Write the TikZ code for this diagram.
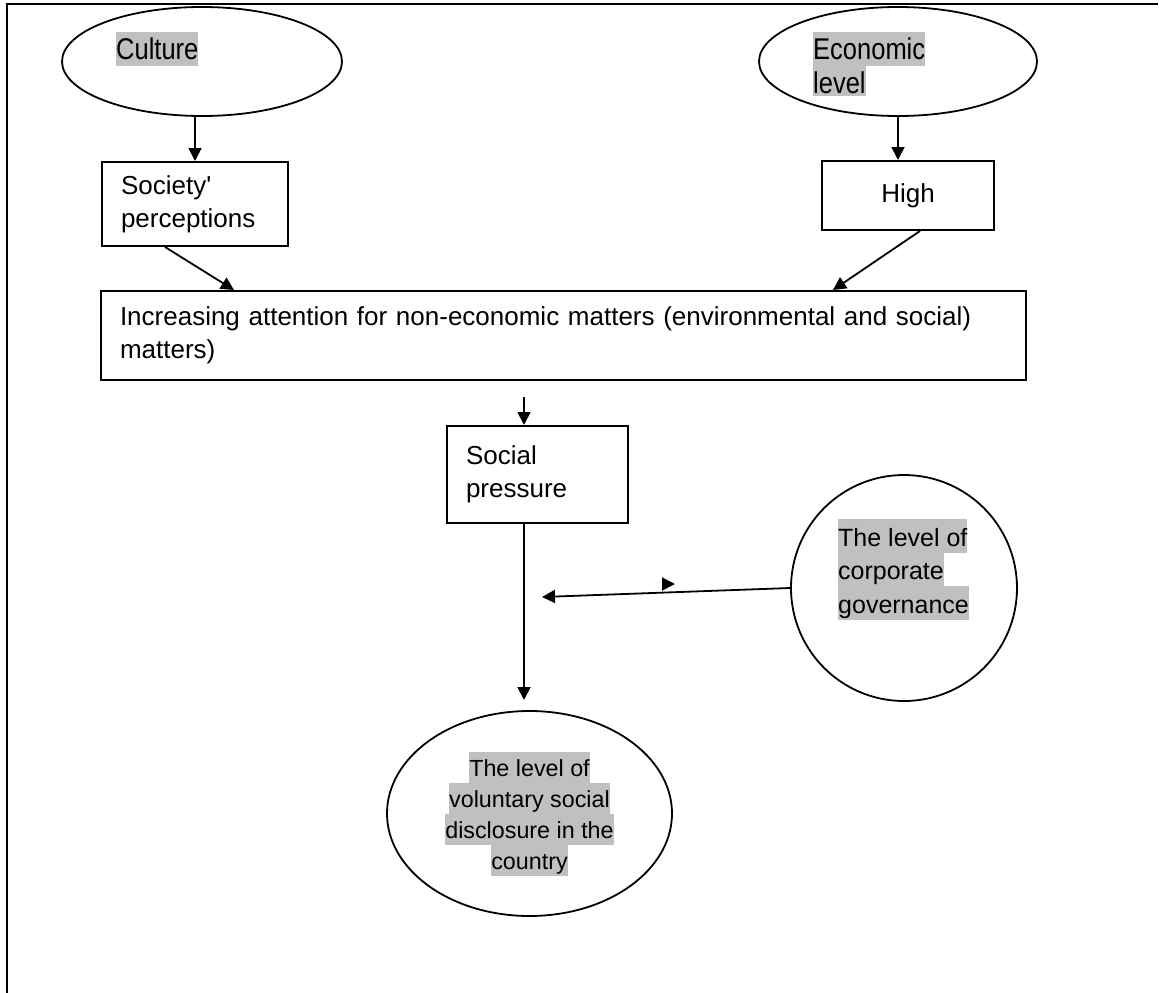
\documentclass[tikz,border=0pt]{standalone}
\usepackage{fontspec}
\setmainfont{Liberation Sans}
\newfontfamily\ovalfamily{Liberation Sans}[FakeStretch=0.85]
\usepackage{tikz}
\usetikzlibrary{arrows.meta,positioning,shapes.geometric}
\definecolor{hlgray}{HTML}{C0C0C0}
\newcommand{\hilite}[1]{{\fboxsep=0pt\colorbox{hlgray}{\rule[-0.2\baselineskip]{0pt}{\baselineskip}#1}}}
\tikzset{
  ovalbox/.style={draw, ellipse, line width=1.8pt, inner sep=0pt},
  roundbox/.style={draw, circle, line width=1.8pt, inner sep=0pt},
  rectbox/.style={draw, rectangle, line width=2pt, inner xsep=19pt, inner ysep=0pt, align=left, font=\fontsize{26}{33}\selectfont},
  ovaltext/.style={inner sep=0pt, anchor=north west, align=left, font=\ovalfamily\fontsize{30}{34}\selectfont},
  circtext/.style={inner sep=0pt, anchor=north west, align=left, font=\fontsize{25}{33.5}\selectfont},
  arrow/.style={-{Triangle[length=13pt,width=13pt]}, line width=1.8pt}
}

\begin{document}
\begin{tikzpicture}[x=1pt, y=-1pt]
  \useasboundingbox (0,0) rectangle (1159,993);
  % page frame, open at right and bottom
  \draw[line width=2.2pt] (7,993) -- (7,4) -- (1158,4);

  % top ovals
  \node[ovalbox, minimum width=280pt, minimum height=109pt] (culture) at (202,61.5) {};
  \node[ovaltext] (culturetext) at (116,32) {\hilite{Culture}};
  \node[ovalbox, minimum width=278pt, minimum height=109pt] (econ) at (898,61.5) {};
  \begin{scope}
    \clip (800,20) rectangle (960,95);
    \node[ovaltext] (econtext) at (813,32) {\hilite{Economic}\\\hilite{level}};
  \end{scope}

  % boxes
  \node[rectbox, text width=148pt, minimum height=84pt] (society) at (195,204) {Society\textquotesingle\\perceptions};
  \node[rectbox, text width=134pt, minimum height=69pt, align=center] (high) at (908,195.5) {High};
  \node[rectbox, text width=887pt, minimum height=89pt] (attention) at (563.5,335.5)
    {Increasing attention for non-economic matters (environmental and social)\\matters)};
  \node[rectbox, text width=143pt, minimum height=97pt] (social) at (537.5,474.5) {Social\\pressure};

  % moderator and outcome
  \node[roundbox, minimum size=226pt] (gov) at (904,588) {};
  \node[circtext] (govtext) at (838,519) {\hilite{The level of}\\\hilite{corporate}\\\hilite{governance}};
  \node[ovalbox, minimum width=285pt, minimum height=205pt, align=center, font=\fontsize{23.3}{31}\selectfont] (disclosure) at (529.5,813.5)
    {\hilite{The level of}\\\hilite{voluntary social}\\\hilite{disclosure in the}\\\hilite{country}};

  \coordinate (socialin) at (524,397);
  \coordinate (disclosurein) at (524,700);
  \coordinate (govtip) at (542,597);
  \coordinate (stray) at (662,584);

  \draw[arrow] (society.north |- culture.south) -- (society.north);
  \draw[arrow] (econ.south) -- (econ.south |- high.north);
  \draw[arrow] ([xshift=-30pt]society.south) -- ([xshift=134pt]attention.north west);
  \draw[arrow] ([xshift=12pt]high.south) -- ([xshift=-194pt]attention.north east);
  \draw[arrow] (socialin) -- (socialin |- social.north);
  \draw[arrow] (disclosurein |- social.south) -- (disclosurein);
  \draw[arrow] (gov.west) -- (govtip);
  \draw[arrow] (stray) -- ++(13,0);
\end{tikzpicture}
\end{document}
